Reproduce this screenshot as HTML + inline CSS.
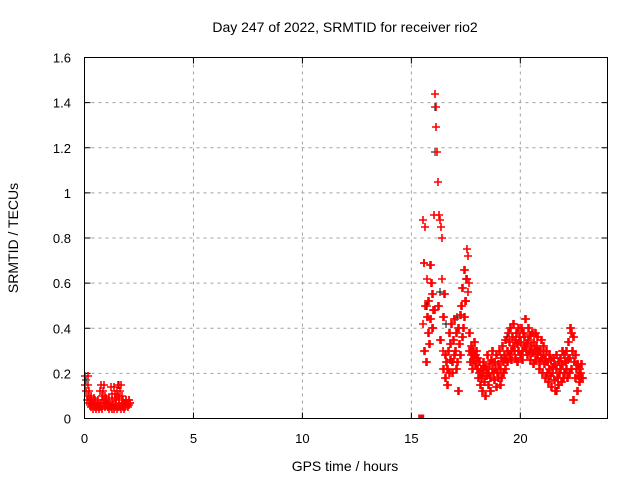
<!DOCTYPE html>
<html><head><meta charset="utf-8"><style>
html,body{margin:0;padding:0;background:#fff}
svg{display:block;font-family:"Liberation Sans",sans-serif}
</style></head><body>
<svg id="chart" width="640" height="480">
<text x="345" y="32" font-size="14" text-anchor="middle">Day 247 of 2022, SRMTID for receiver rio2</text>
<text x="345" y="471" font-size="14" text-anchor="middle">GPS time / hours</text>
<text transform="translate(18,238) rotate(-90)" font-size="14" text-anchor="middle">SRMTID / TECUs</text>
<g id="grid"></g>
<g id="ticks"></g>
<g id="marks"></g>
<rect x="84.5" y="57.5" width="523" height="361" fill="none" stroke="#000"/>
</svg>
<script>
const xTicks = [0,5,10,15,20];
const yTicks = [0,0.2,0.4,0.6,0.8,1,1.2,1.4,1.6];
const yTickLabels = ["0","0.2","0.4","0.6","0.8","1","1.2","1.4","1.6"];
const timesA = [0,0.04,0.08,0.12,0.16,0.2,0.24,0.28,0.32,0.36,0.4,0.44,0.48,0.52,0.56,0.6,0.64,0.68,0.72,0.76,0.8,0.84,0.88,0.92,0.96,1,1.04,1.08,1.12,1.16,1.2,1.24,1.28,1.32,1.36,1.4,1.44,1.48,1.52,1.56,1.6,1.64,1.68,1.72,1.76,1.8,1.84,1.88,1.92,1.96,2,2.04,2.08];
const valuesA = [0.19,0.15,0.12,0.08,0.1,0.07,0.06,0.09,0.05,0.07,0.04,0.06,0.08,0.05,0.06,0.07,0.05,0.04,0.12,0.15,0.1,0.08,0.06,0.05,0.07,0.09,0.06,0.05,0.04,0.06,0.14,0.11,0.08,0.06,0.04,0.05,0.09,0.12,0.15,0.1,0.07,0.05,0.04,0.06,0.08,0.07,0.05,0.06,0.08,0.07,0.06,0.08,0.07];
const valuesB = [0.88,0.42,0.69,0.3,0.85,0.5,0.62,0.25,0.45,0.38,
0.52,0.33,0.68,0.44,0.6,0.4,0.55,0.9,0.48,1.44,
1.38,1.29,1.18,1.05,0.5,0.9,0.88,0.35,0.85,0.8,
0.62,0.3,0.45,0.22,0.55,0.18,0.28,0.25,0.15,0.22,
0.3,0.2,0.38,0.26,0.33,0.42,0.25,0.2,0.35,0.28,
0.44,0.3,0.22,0.38,0.25,0.12,0.4,0.33,0.28,0.46,
0.5,0.36,0.58,0.4,0.66,0.45,0.52,0.62,0.75,0.72,
0.56,0.6,0.38,0.3,0.25,0.28,0.32,0.22,0.3,0.26,
0.34,0.28,0.24,0.3,0.27,0.22,0.18,0.25,0.2,0.15,
0.22,0.18,0.12,0.25,0.2,0.16,0.23,0.1,0.19,0.22,
0.28,0.15,0.2,0.24,0.12,0.18,0.26,0.22,0.3,0.2,
0.17,0.25,0.22,0.14,0.28,0.2,0.24,0.18,0.3,0.15,
0.22,0.27,0.18,0.32,0.25,0.2,0.28,0.22,0.35,0.26,
0.3,0.25,0.38,0.28,0.34,0.4,0.3,0.26,0.36,0.32,
0.42,0.3,0.35,0.27,0.38,0.33,0.25,0.4,0.3,0.36,
0.28,0.34,0.4,0.3,0.26,0.38,0.32,0.36,0.44,0.3,
0.33,0.28,0.4,0.35,0.3,0.37,0.26,0.32,0.38,0.29,
0.24,0.34,0.3,0.26,0.38,0.32,0.28,0.36,0.3,0.25,
0.22,0.3,0.27,0.35,0.2,0.28,0.32,0.24,0.18,0.26,
0.3,0.2,0.25,0.16,0.28,0.22,0.19,0.26,0.14,0.23,
0.2,0.27,0.17,0.24,0.12,0.22,0.28,0.18,0.25,0.15,
0.2,0.27,0.22,0.16,0.3,0.24,0.18,0.28,0.2,0.25,
0.22,0.3,0.18,0.26,0.34,0.2,0.27,0.4,0.22,0.38,
0.3,0.36,0.08,0.25,0.18,0.28,0.22,0.12,0.24,0.19,
0.22,0.16,0.2,0.24,0.18];
const startB = 15.52;
const stepB = 0.03;
const blackTimes = [0.05,1.6,15.7,16.1,16.1,16.3,16.6,17.1,18.5,19.4,20.3,21.7,22.4];
const blackValues = [0.17,0.15,0.5,1.38,1.18,0.56,0.42,0.45,0.2,0.36,0.3,0.12,0.28];
const zeroTimes = [15.45];
const zeroValues = [0];

const X0=84.5, X1=607.5, Y0=418.5, Y1=57.5;
const xs = h => X0 + h/24*(X1-X0);
const ys = v => Y0 - v/1.6*(Y0-Y1);
const NS="http://www.w3.org/2000/svg";
function mk(tag, parent){const e=document.createElementNS(NS,tag);parent.appendChild(e);return e;}
const grid=document.getElementById('grid'), ticks=document.getElementById('ticks'), marks=document.getElementById('marks');
xTicks.forEach(t=>{
  const x=xs(t);
  if(t>0){const g=mk('line',grid);g.setAttribute('x1',x);g.setAttribute('x2',x);g.setAttribute('y1',Y1);g.setAttribute('y2',Y0);g.setAttribute('stroke','#a0a0a0');g.setAttribute('stroke-dasharray','3,4');
  
  }
  [[Y0,Y0-6],[Y1,Y1+6]].forEach(p=>{const l=mk('line',ticks);l.setAttribute('x1',x);l.setAttribute('x2',x);l.setAttribute('y1',p[0]);l.setAttribute('y2',p[1]);l.setAttribute('stroke','#000');
  
  });
  const tx=mk('text',ticks);tx.setAttribute('x',x);tx.setAttribute('y',443);tx.setAttribute('font-size','13');tx.setAttribute('text-anchor','middle');tx.textContent=String(t);
  
  
});
yTicks.forEach((v,i)=>{
  const y=ys(v);
  if(v>0&&v<1.6){const g=mk('line',grid);g.setAttribute('x1',X0);g.setAttribute('x2',X1);g.setAttribute('y1',y);g.setAttribute('y2',y);g.setAttribute('stroke','#a0a0a0');g.setAttribute('stroke-dasharray','3,4');
  
  }
  [[X0,X0+6],[X1,X1-6]].forEach(p=>{const l=mk('line',ticks);l.setAttribute('x1',p[0]);l.setAttribute('x2',p[1]);l.setAttribute('y1',y);l.setAttribute('y2',y);l.setAttribute('stroke','#000');
  
  });
  const tx=mk('text',ticks);tx.setAttribute('x',71);tx.setAttribute('y',y+5);tx.setAttribute('font-size','13');tx.setAttribute('text-anchor','end');tx.textContent=yTickLabels[i];
  
  
});
function plus(h,v,color,w){
  const x=Math.round(xs(h)), y=Math.round(ys(v));
  const p=mk('path',marks);
  p.setAttribute('d',`M${x-4} ${y}H${x+4}M${x} ${y-4}V${y+4}`);
  p.setAttribute('stroke',color);p.setAttribute('fill','none');p.setAttribute('stroke-width',w);
  
  
}
blackTimes.forEach((t,i)=>plus(t,blackValues[i],'#000',1));
timesA.forEach((t,i)=>plus(t,valuesA[i],'#f00',1.6));
timesA.forEach((t,i)=>{ if(i>=3) plus(t+0.02,valuesA[i-3],'#f00',1.6); });
valuesB.forEach((v,i)=>plus(startB+i*stepB,v,'#f00',1.6));
valuesB.forEach((v,i)=>{
  const j=Math.min(i+2,valuesB.length-1);
  const w=valuesB[j];
  if(v<0.7) plus(startB+i*stepB+0.015,w<0.7?w:v,'#f00',1.6);
});
zeroTimes.forEach((t,i)=>{
  const r=mk('rect',marks);r.setAttribute('x',xs(t)-3);r.setAttribute('y',ys(zeroValues[i])-4);r.setAttribute('width',6);r.setAttribute('height',4);r.setAttribute('fill','#f00');
  
  
});
</script>
</body></html>
